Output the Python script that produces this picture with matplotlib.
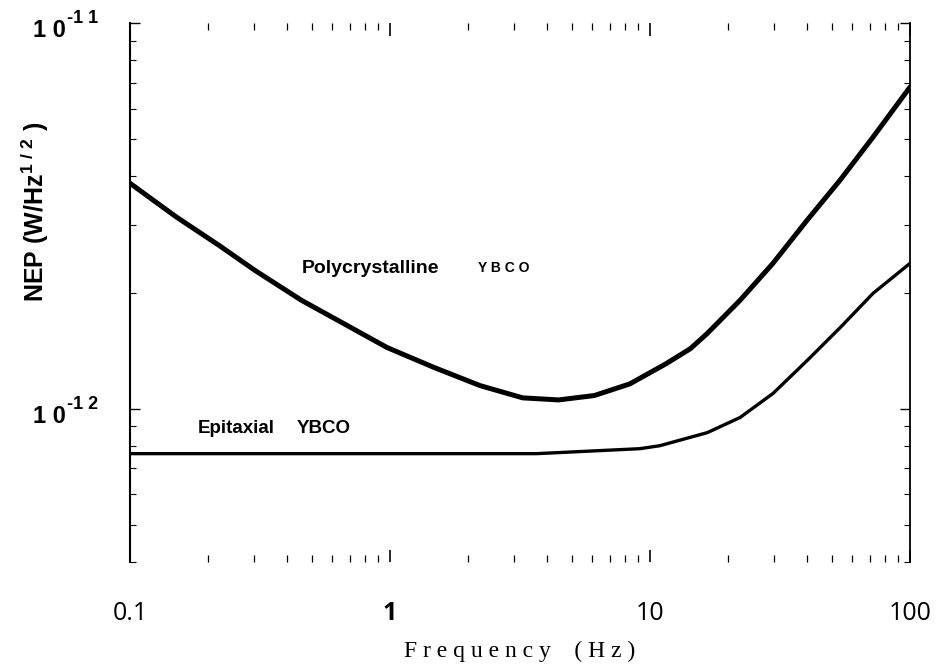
import matplotlib
matplotlib.use("Agg")
import matplotlib.pyplot as plt
from matplotlib.ticker import FixedLocator, NullFormatter, LogLocator

# ---- data ----
poly_freq = [0.1, 0.1507, 0.22, 0.303, 0.456, 0.665, 0.974, 1.47,
             2.22, 3.24, 4.45, 6.11, 8.37, 11.5, 14.3, 16.6, 22.2, 29.7,
             40.2, 53.8, 72.1, 100]
poly_nep = [3.84e-12, 3.14e-12, 2.65e-12, 2.28e-12, 1.91e-12,
            1.66e-12, 1.44e-12, 1.28e-12, 1.147e-12, 1.066e-12, 1.053e-12,
            1.081e-12, 1.159e-12, 1.306e-12, 1.43e-12, 1.566e-12, 1.909e-12,
            2.38e-12, 3.08e-12, 3.91e-12, 5.06e-12, 6.82e-12]

epi_freq = [0.1, 3.67, 9.15, 10.9, 16.6, 22.2, 29.7, 40.2, 53.8, 72.1, 100]
epi_nep = [7.64e-13, 7.64e-13, 7.87e-13, 8.01e-13, 8.66e-13, 9.48e-13,
           1.094e-12, 1.332e-12, 1.62e-12, 1.99e-12, 2.38e-12]

x_ticks = [0.1, 1, 10, 100]
x_tick_labels = ["0.1", "1", "10", "100"]
y_ticks = [1e-12, 1e-11]
y_tick_mantissa = ["1 0", "1 0"]
y_tick_exponent = ["-1 2", "-1 1"]

label_poly = "Polycrystalline"
label_poly_ybco = "Y B C O"
label_epi = "Epitaxial"
label_epi_ybco = "YBCO"
x_label = "F r e q u e n c y    ( H z )"
y_label = r"NEP (W/Hz$^{\mathbf{1\ /\ 2}}$ )"

plt.rcParams["mathtext.fontset"] = "custom"
plt.rcParams["mathtext.bf"] = "Liberation Sans:bold"
plt.rcParams["mathtext.rm"] = "Liberation Sans"

fig = plt.figure(figsize=(9.36, 6.64), dpi=100)
ax = fig.add_axes([130 / 936, 1 - 562 / 664, 780 / 936, 539 / 664])

ax.set_xscale("log")
ax.set_yscale("log")
ax.set_xlim(0.1, 100)
ax.set_ylim(4e-13, 1e-11)

ax.plot(poly_freq, poly_nep, color="black", lw=3.6, solid_capstyle="round",
        solid_joinstyle="round")
ax.plot(epi_freq, epi_nep, color="black", lw=2.4, solid_capstyle="round",
        solid_joinstyle="round")

# spines
for s in ["top", "bottom"]:
    ax.spines[s].set_visible(False)
ax.spines["left"].set_linewidth(1.5)
ax.spines["right"].set_linewidth(1.3)

# x ticks
ax.xaxis.set_major_locator(FixedLocator(x_ticks))
ax.set_xticklabels(x_tick_labels, fontfamily="Open Sans", fontsize=18)
for t in ax.get_xticklabels():
    if t.get_text() == "1":
        t.set_fontweight("bold")
ax.xaxis.set_minor_locator(LogLocator(base=10, subs=range(2, 10)))
ax.xaxis.set_minor_formatter(NullFormatter())
ax.tick_params(axis="x", which="both", direction="in", top=True, bottom=True,
               pad=28)
ax.tick_params(axis="x", which="major", length=9, width=1.2)
ax.tick_params(axis="x", which="minor", length=5, width=0.9)

# y ticks (labels drawn as mantissa + raised exponent)
ax.yaxis.set_major_locator(FixedLocator(y_ticks))
ax.yaxis.set_major_formatter(NullFormatter())
ax.yaxis.set_minor_locator(LogLocator(base=10, subs=range(2, 10)))
ax.yaxis.set_minor_formatter(NullFormatter())
ax.tick_params(axis="y", which="both", direction="in", left=True, right=True)
ax.tick_params(axis="y", which="major", length=7, width=1.0)
ax.tick_params(axis="y", which="minor", length=4, width=0.8)

px = 72 / 100  # points per pixel
for yv, man, ex in zip(y_ticks, y_tick_mantissa, y_tick_exponent):
    ax.annotate(man, xy=(0, yv), xycoords=("axes fraction", "data"),
                xytext=(-64 * px, -14 * px), textcoords="offset points",
                ha="right", va="baseline", fontfamily="Liberation Sans",
                fontweight="bold", fontsize=17, annotation_clip=False)
    ax.annotate(ex, xy=(0, yv), xycoords=("axes fraction", "data"),
                xytext=(-63 * px, 0), textcoords="offset points",
                ha="left", va="baseline", fontfamily="Liberation Sans",
                fontweight="bold", fontsize=13, annotation_clip=False)

# annotations
ax.text(0.458, 2.31e-12, label_poly, fontfamily="Liberation Sans",
        fontweight="bold", fontsize=14, va="center", ha="left")
ax.text(2.18, 2.31e-12, label_poly_ybco, fontfamily="Liberation Sans",
        fontweight="bold", fontsize=10, va="center", ha="left")
ax.text(0.183, 8.87e-13, label_epi, fontfamily="Liberation Sans",
        fontweight="bold", fontsize=13.5, va="center", ha="left")
ax.text(0.439, 8.87e-13, label_epi_ybco, fontfamily="Liberation Sans",
        fontweight="bold", fontsize=13.5, va="center", ha="left")

ax.set_xlabel(x_label, fontfamily="Liberation Serif", fontsize=17,
              labelpad=11)
fig.text(35 / 936, 1 - 212 / 664, y_label, rotation=90, ha="center",
         va="center", fontfamily="Liberation Sans", fontweight="bold",
         fontsize=18)

fig.savefig("out.png", dpi=100, facecolor="white")
